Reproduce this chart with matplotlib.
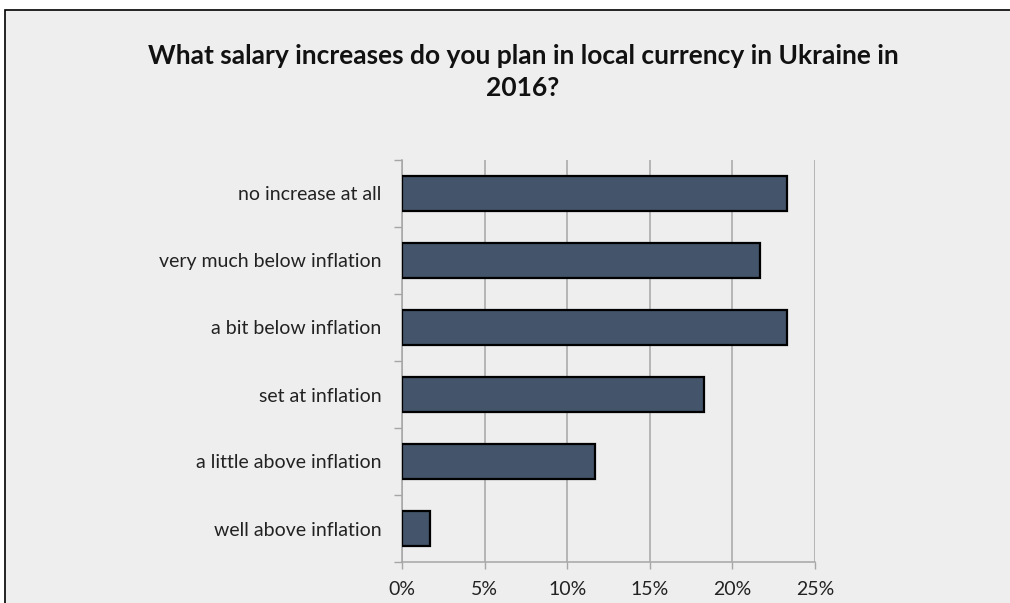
import matplotlib
matplotlib.use("Agg")
import matplotlib.pyplot as plt
from matplotlib.patches import Rectangle
from matplotlib.ticker import FuncFormatter, MultipleLocator

# survey answers, top to bottom
categories = ["no increase at all", "very much below inflation", "a bit below inflation",
              "set at inflation", "a little above inflation", "well above inflation"]
shares = [23.3, 21.7, 23.3, 18.3, 11.7, 1.7]  # percent of respondents

title = "What salary increases do you plan in local currency in Ukraine in\n2016?"

W, H = 1010, 603
fig = plt.figure(figsize=(W / 100, H / 100), dpi=100)
fig.patch.set_facecolor("white")

# chart area panel with a thin black frame, kept behind the axes
panel = Rectangle((5 / W, -0.01), 1.1, (H - 10) / H + 0.01, transform=fig.transFigure,
                  facecolor="#eeeeee", edgecolor="black", linewidth=1.2, zorder=-5)
fig.patches.append(panel)

ax = fig.add_axes([402 / W, 41 / H, (815 - 402) / W, (562 - 160) / H])
ax.set_facecolor("#eeeeee")

pos = list(range(len(categories)))
ax.barh(pos, shares, height=0.53, color="#44546a", edgecolor="black", linewidth=1.6, zorder=3)
ax.set_ylim(len(categories) - 0.5, -0.5)
ax.set_xlim(0, 25)

ax.xaxis.set_major_locator(MultipleLocator(5))
ax.xaxis.set_major_formatter(FuncFormatter(lambda v, p: f"{v:.0f}%"))
ax.grid(axis="x", color="#a6a6a6", linewidth=1.1, zorder=0)

# category boundary ticks on the y axis, labels in between
ax.set_yticks([p - 0.5 for p in pos] + [len(categories) - 0.5])
ax.set_yticks(pos, minor=True)
ax.set_yticklabels(categories, minor=True)
ax.set_yticklabels([])
ax.tick_params(axis="y", which="major", length=6, color="#a6a6a6", width=1)
ax.tick_params(axis="y", which="minor", length=0, pad=15, labelsize=14, labelcolor="#222222")
ax.tick_params(axis="x", length=5, color="#a6a6a6", width=1, pad=9, labelsize=14,
               labelcolor="#222222")
for lab in ax.get_yticklabels(minor=True) + ax.get_xticklabels():
    lab.set_fontfamily("Lato")

for side in ["top", "right"]:
    ax.spines[side].set_visible(False)
for side in ["left", "bottom"]:
    ax.spines[side].set_color("#a6a6a6")
    ax.spines[side].set_linewidth(1.1)

fig.text(523 / W, 1 - 72 / H, title, ha="center", va="center", fontsize=19,
         fontweight="bold", fontfamily="Lato", color="#111111", linespacing=1.42)

fig.savefig("out.png", dpi=100, facecolor=fig.get_facecolor())
